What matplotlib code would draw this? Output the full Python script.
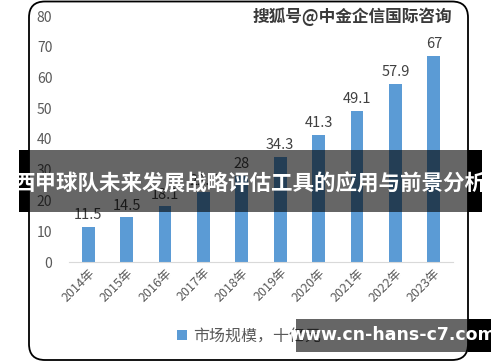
import matplotlib
matplotlib.use("Agg")
import matplotlib.pyplot as plt
from matplotlib.patches import FancyBboxPatch, Rectangle

plt.rcParams['font.family'] = ['Noto Sans CJK SC', 'DejaVu Sans']

# 数据
anos = ["2014年", "2015年", "2016年", "2017年", "2018年",
        "2019年", "2020年", "2021年", "2022年", "2023年"]
valores = [11.5, 14.5, 18.1, 22.7, 28, 34.3, 41.3, 49.1, 57.9, 67]
rotulos = ["11.5", "14.5", "18.1", "22.7", "28", "34.3", "41.3", "49.1", "57.9", "67"]
legenda = "市场规模，十亿元"
marca = "搜狐号@中金企信国际咨询"
faixa = "西甲球队未来发展战略评估工具的应用与前景分析"
site = "www.cn-hans-c7.com"

W, H = 500, 362
fig = plt.figure(figsize=(W / 100, H / 100), dpi=100)

# moldura arredondada do gráfico (coordenadas em pixels)
bg = fig.add_axes([0, 0, 1, 1], zorder=0)
bg.set_xlim(0, W)
bg.set_ylim(H, 0)
bg.axis("off")
bg.add_patch(FancyBboxPatch((29, 1.5), 439, 358.5,
                            boxstyle="round,pad=0,rounding_size=16",
                            fc="white", ec="black", lw=1.3))
bg.text(452, 17, marca, ha="right", va="center", fontsize=12,
        color="#3a3a3a", fontweight="bold")

# gráfico de barras
ax = fig.add_axes([69 / W, 1 - 262 / H, 384 / W, 246 / H], zorder=1)
ax.patch.set_alpha(0)
x = range(len(anos))
barras = ax.bar(x, valores, width=0.33, color="#5B9BD5", label=legenda)
ax.set_xlim(-0.5, len(anos) - 0.5)
ax.set_ylim(0, 80)
ax.set_yticks(range(0, 81, 10))
ax.set_xticks(list(x))
ax.set_xticklabels(anos, rotation=45, ha="right", rotation_mode="anchor",
                   fontsize=9, color="#595959")
ax.tick_params(axis="y", length=0, labelsize=10, labelcolor="#595959", pad=12)
ax.tick_params(axis="x", length=0, pad=3)
for lado in ["top", "right", "left"]:
    ax.spines[lado].set_visible(False)
ax.spines["bottom"].set_color("#d9d9d9")

for i in range(len(valores)):
    ax.text(i, valores[i] + 1.5, rotulos[i], ha="center", va="bottom",
            fontsize=10.5, color="#404040")

ax.legend(loc="upper center", bbox_to_anchor=(0.47, -0.21), frameon=False,
          fontsize=11.5, labelcolor="#595959", handlelength=0.6,
          handleheight=0.6, handletextpad=0.4)

# sobreposições (faixa e rodapé)
ov = fig.add_axes([0, 0, 1, 1], zorder=5)
ov.set_xlim(0, W)
ov.set_ylim(H, 0)
ov.axis("off")
ov.patch.set_alpha(0)
ov.add_patch(Rectangle((29, 150), 439, 62, fc="black", alpha=0.6, lw=0))
ov.add_patch(Rectangle((19, 150), 10, 62, fc="black", lw=0))
ov.add_patch(Rectangle((468, 150), 14, 62, fc="black", lw=0))
ov.text(250, 184, faixa, ha="center", va="center", fontsize=15.5,
        color="white", fontweight="bold")

ov.add_patch(Rectangle((296, 319), 172, 33, fc="black", alpha=0.6, lw=0))
ov.add_patch(Rectangle((468, 319), 23, 33, fc="black", lw=0))
ov.text(393, 335, site, ha="center", va="center", fontsize=12.5,
        color="white", fontweight="bold", family="DejaVu Sans")

fig.savefig("out.png", dpi=100)
